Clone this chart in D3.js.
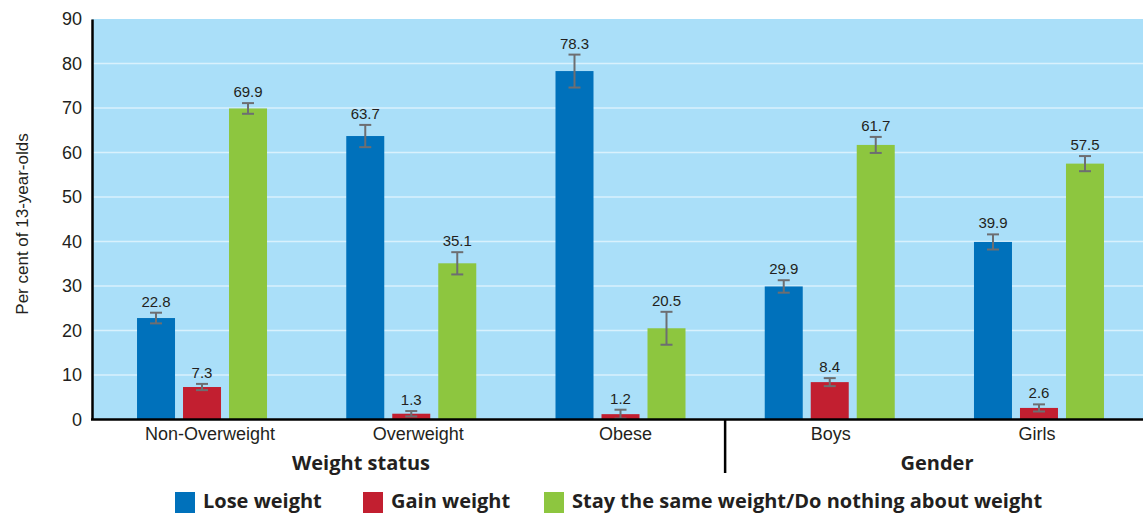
<!DOCTYPE html>
<html><head><meta charset="utf-8">
<script src="https://cdn.jsdelivr.net/npm/d3@7"></script>
<style>
body{margin:0;background:#fff;}
svg{display:block;}
</style></head>
<body>
<svg id="chart" width="1143" height="513"></svg>
<script>
const categories = ["Non-Overweight","Overweight","Obese","Boys","Girls"];
const seriesNames = ["Lose weight","Gain weight","Stay the same weight/Do nothing about weight"];
const loseWeight = [22.8, 63.7, 78.3, 29.9, 39.9];
const gainWeight = [7.3, 1.3, 1.2, 8.4, 2.6];
const stayWeight = [69.9, 35.1, 20.5, 61.7, 57.5];
const loseErr = [1.2, 2.5, 3.7, 1.4, 1.7];
const gainErr = [0.7, 0.6, 1.0, 0.9, 0.8];
const stayErr = [1.2, 2.5, 3.7, 1.8, 1.7];
const yTicks = [0,10,20,30,40,50,60,70,80,90];
const sections = [{name:"Weight status", cats:["Non-Overweight","Overweight","Obese"]},{name:"Gender", cats:["Boys","Girls"]}];
const colors = ["#0071bb","#c21f30","#8dc63f"];

const series = [loseWeight, gainWeight, stayWeight];
const errs = [loseErr, gainErr, stayErr];

const svg = d3.select("#chart");
const mLeft = 92, mRight = 1143, mTop = 19, mBottom = 419.5;

const y = d3.scaleLinear().domain([0,90]).range([mBottom, mTop]);
const x0 = d3.scaleBand().domain(categories).range([97.4, 1143.6]).paddingInner(0).paddingOuter(0);
const x1 = d3.scaleBand().domain(d3.range(3)).range([0, 130]).paddingInner(8/46).paddingOuter(0);
const groupOff = (x0.bandwidth() - 130)/2;

// background
svg.append("rect").attr("x", mLeft).attr("y", y(90)).attr("width", mRight-mLeft).attr("height", mBottom - y(90)).attr("fill", "#aadff9");

// gridlines
svg.append("g").selectAll("line").data(yTicks.filter(d=>d>0 && d<90)).join("line")
  .attr("x1", mLeft).attr("x2", mRight).attr("y1", d=>y(d)).attr("y2", d=>y(d))
  .attr("stroke", "#d9f1fd").attr("stroke-width", 1.5);

// bars
const rows = [];
categories.forEach((c,i)=>{
  series.forEach((s,j)=>{
    rows.push({cat:c, j, v:s[i], e:errs[j][i]});
  });
});
const gBars = svg.append("g");
gBars.selectAll("rect").data(rows).join("rect")
  .attr("x", d=>x0(d.cat)+groupOff+x1(d.j))
  .attr("width", x1.bandwidth())
  .attr("y", d=>y(d.v))
  .attr("height", d=>y(0)-y(d.v))
  .attr("fill", d=>colors[d.j]);

// error bars
const eg = gBars.selectAll("g.err").data(rows).join("g").attr("class","err")
  .attr("transform", d=>`translate(${x0(d.cat)+groupOff+x1(d.j)+x1.bandwidth()/2},0)`);
eg.append("line").attr("x1",0).attr("x2",0).attr("y1",d=>y(d.v+d.e)).attr("y2",d=>y(Math.max(0,d.v-d.e)))
  .attr("stroke","#6d6e71").attr("stroke-width",2);
eg.append("line").attr("x1",-6).attr("x2",6).attr("y1",d=>y(d.v+d.e)).attr("y2",d=>y(d.v+d.e))
  .attr("stroke","#6d6e71").attr("stroke-width",2);
eg.append("line").attr("x1",-6).attr("x2",6).attr("y1",d=>y(Math.max(0,d.v-d.e))).attr("y2",d=>y(Math.max(0,d.v-d.e)))
  .attr("stroke","#6d6e71").attr("stroke-width",2);
eg.append("text").attr("x",0).attr("y",d=>y(d.v+d.e)-6)
  .attr("text-anchor","middle").attr("font-family","Liberation Sans, Arial, sans-serif")
  .attr("font-size",15).attr("fill","#231f20").text(d=>d.v.toFixed(1));

// y axis
const yAxis = d3.axisLeft(y).tickValues(yTicks).tickSize(0).tickPadding(10).tickFormat(d3.format("d"));
const ya = svg.append("g").attr("transform",`translate(${mLeft},0)`).call(yAxis);
ya.select(".domain").attr("stroke","#000").attr("stroke-width",2.5);
ya.selectAll("text").attr("font-family","Liberation Sans, Arial, sans-serif").attr("font-size",18).attr("fill","#231f20");

// x axis
const xAxis = d3.axisBottom(x0).tickSize(0).tickPadding(8);
const xa = svg.append("g").attr("transform",`translate(0,${mBottom})`).call(xAxis);
xa.select(".domain").remove();
xa.append("line").attr("x1",mLeft-1).attr("x2",mRight).attr("y1",0).attr("y2",0).attr("stroke","#000").attr("stroke-width",2.5);
xa.selectAll(".tick text").attr("font-family","Liberation Sans, Arial, sans-serif").attr("font-size",18).attr("fill","#231f20")
  .attr("dx", (d,i)=>[8,7,5,1,-2][i]);

// separator
const sepX = x0("Boys");
svg.append("line").attr("x1",sepX).attr("x2",sepX).attr("y1",mBottom).attr("y2",473).attr("stroke","#000").attr("stroke-width",2.5);

// section titles
const secX = [361, 937];
svg.selectAll("text.sec").data(sections).join("text").attr("class","sec")
  .attr("x",(d,i)=>secX[i]).attr("y",470).attr("text-anchor","middle")
  .attr("font-family","Open Sans, sans-serif").attr("font-weight","bold").attr("font-size",20).attr("fill","#231f20")
  .text(d=>d.name);

// y title
svg.append("text").attr("transform","translate(28,224) rotate(-90)").attr("text-anchor","middle")
  .attr("font-family","Liberation Sans, Arial, sans-serif").attr("font-size",17).attr("fill","#231f20")
  .text("Per cent of 13-year-olds");

// legend
const legX = [175, 363, 544];
const lg = svg.selectAll("g.leg").data(seriesNames).join("g").attr("class","leg")
  .attr("transform",(d,i)=>`translate(${legX[i]},492)`);
lg.append("rect").attr("width",20).attr("height",22).attr("fill",(d,i)=>colors[i]);
lg.append("text").attr("x",28).attr("y",16).attr("font-family","Open Sans, sans-serif").attr("font-weight","bold")
  .attr("font-size",20).attr("fill","#231f20").text(d=>d);
</script>
</body></html>
